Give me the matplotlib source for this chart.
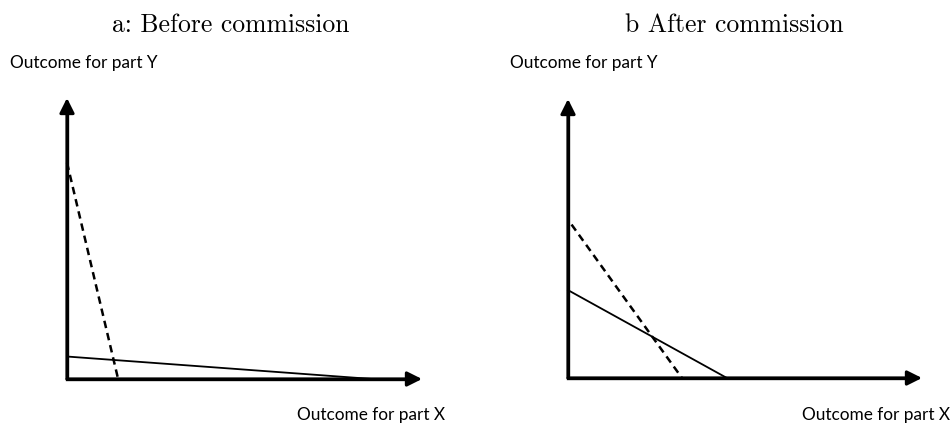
import matplotlib
matplotlib.use("Agg")
import matplotlib.pyplot as plt

# ---- data (arbitrary units, axis arrow tips at 10) ----
titles = ["a: Before commission", "b After commission"]
y_label = "Outcome for part Y"
x_label = "Outcome for part X"
axis_max = 10.0

# panel a
dashed_a_x = [0.0, 1.44]
dashed_a_y = [7.7, 0.0]
solid_a_x = [0.0, 8.6]
solid_a_y = [0.8, 0.0]
# panel b
dashed_b_x = [0.1, 3.22]
dashed_b_y = [5.5, 0.0]
solid_b_x = [0.0, 4.49]
solid_b_y = [3.15, 0.0]

panels = [
    (dashed_a_x, dashed_a_y, solid_a_x, solid_a_y),
    (dashed_b_x, dashed_b_y, solid_b_x, solid_b_y),
]

W, H = 953, 424
fig = plt.figure(figsize=(W / 100, H / 100), dpi=100)

# pixel geometry of each panel: origin x, origin y, x length, y length
geom = [(67, 379, 355, 281), (568, 378, 354, 279)]
title_x = [231, 734]
ylab_x = [10, 510]
xlab_x = [297, 802]

for i, (dx, dy, sx, sy) in enumerate(panels):
    ox, oy, lx, ly = geom[i]
    ax = fig.add_axes([ox / W, (H - oy) / H, lx / W, ly / H])
    ax.set_xlim(0, axis_max)
    ax.set_ylim(0, axis_max)
    ax.axis("off")

    # axes with arrow heads
    ax.plot([0, 0, axis_max * 0.97], [axis_max * 0.97, 0, 0], color="black",
            lw=2.4, solid_joinstyle="miter", solid_capstyle="butt", clip_on=False)
    for tip in [(axis_max, 0), (0, axis_max)]:
        ax.annotate("", xy=tip, xytext=(0, 0),
                    arrowprops=dict(arrowstyle="-|>", color="black", lw=2.2,
                                    mutation_scale=22, shrinkA=0, shrinkB=0),
                    annotation_clip=False)

    ax.plot(dx, dy, color="black", lw=1.8, ls=(0, (3, 2)), clip_on=False)
    ax.plot(sx, sy, color="black", lw=1.3, clip_on=False)

    fig.text(title_x[i] / W, 1 - 25 / H, titles[i], ha="center", va="center",
             fontsize=18.5, family=["cmr10", "DejaVu Serif"])
    fig.text(ylab_x[i] / W, 1 - 63 / H, y_label, ha="left", va="center",
             fontsize=12.4, family="Lato")
    fig.text(xlab_x[i] / W, 1 - 415 / H, x_label, ha="left", va="center",
             fontsize=12.4, family="Lato")

fig.savefig("out.png", dpi=100)
